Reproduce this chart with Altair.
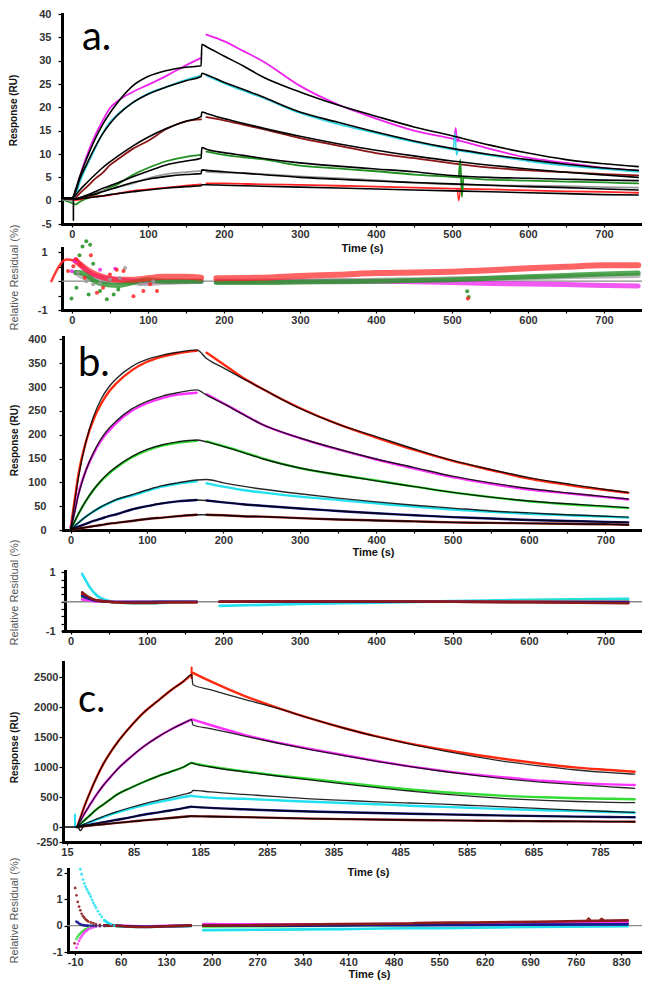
import altair as alt
import pandas as pd

FONT = "Liberation Sans"
H = 974  # plot height (page 8..982)

# ======================= Panel a (sensorgram) =======================
A_T_ASSOC = [-12, 0, 5, 10, 20, 30, 40, 50, 60, 80, 100, 125, 150, 170]
A_T_JUMP = [171]
A_T_DISS = [177, 200, 225, 250, 300, 350, 400, 450, 500, 550, 600, 650, 700, 745]

A_MAGENTA_ASSOC = [0.3, 0.2, 1.5, 4.8, 9.8, 13.8, 17.0, 19.8, 21.3, 23.3, 24.8, 26.8, 29.0, 30.6]
A_MAGENTA_DISS = [35.6, 34.2, 32.1, 30.0, 24.6, 20.6, 17.6, 15.0, 13.3, 11.1, 9.2, 8.1, 7.0, 6.4]
A_MAGENTA_FIT = [0.5, 0.5, 2.5, 5.0, 9.2, 13.0, 16.2, 18.8, 21.0, 24.6, 26.6, 27.9, 28.6, 28.9, 33.5,
                 33.0, 31.0, 28.9, 26.6, 23.3, 20.5, 18.1, 15.8, 13.9, 11.9, 10.2, 8.8, 7.9, 7.3]
A_CYAN_ASSOC = [0.2, 0.0, 1.0, 3.8, 7.6, 11.0, 14.3, 16.8, 18.5, 21.0, 22.9, 24.4, 25.9, 26.8]
A_CYAN_DISS = [26.8, 25.2, 23.6, 22.1, 18.8, 16.4, 14.5, 12.6, 11.0, 9.7, 8.5, 7.5, 6.8, 6.2]
A_CYAN_FIT = [0.5, 0.5, 2.0, 4.5, 8.0, 11.3, 14.2, 16.5, 18.3, 21.0, 22.8, 24.4, 25.7, 26.6, 27.3,
              27.0, 25.4, 23.9, 22.3, 19.0, 16.8, 14.7, 12.8, 11.2, 9.9, 8.8, 7.8, 7.0, 6.5]
A_MAROON_ASSOC = [0.3, 0.1, 0.6, 1.5, 3.0, 4.6, 5.9, 7.6, 8.8, 11.1, 12.8, 15.4, 17.0, 17.4]
A_MAROON_DISS = [17.9, 17.2, 16.3, 15.4, 13.4, 11.8, 10.2, 9.1, 8.0, 7.1, 6.5, 6.1, 5.7, 5.4]
A_MAROON_FIT = [0.5, 0.5, 1.2, 2.2, 3.9, 5.5, 7.0, 8.3, 9.5, 11.7, 13.6, 15.5, 17.0, 18.0, 19.0,
                18.7, 17.6, 16.6, 15.6, 13.8, 12.2, 10.8, 9.6, 8.5, 7.6, 6.8, 6.1, 5.5, 5.0]
A_GREEN_ASSOC = [0.2, -0.5, -0.8, -0.3, 0.5, 1.2, 2.0, 2.8, 3.5, 5.5, 7.0, 8.5, 9.4, 9.8]
A_GREEN_DISS = [10.5, 9.8, 9.3, 8.9, 7.5, 6.9, 6.3, 5.6, 5.1, 4.5, 4.3, 4.1, 3.9, 3.7]
A_GREEN_FIT = [0.5, 0.5, 0.3, 0.6, 1.2, 1.9, 2.6, 3.2, 3.8, 5.1, 6.3, 7.7, 8.5, 9.1, 11.4,
               11.0, 10.3, 9.7, 9.1, 8.1, 7.4, 6.8, 6.2, 5.4, 5.0, 4.8, 4.6, 4.4, 4.3]
A_GRAY_ASSOC = [0.3, 0.0, 0.2, 0.5, 1.0, 1.6, 2.1, 2.5, 2.9, 3.7, 4.8, 5.7, 6.1, 6.4]
A_GRAY_DISS = [6.2, 6.0, 5.9, 5.7, 5.2, 4.8, 4.4, 3.8, 3.5, 3.3, 3.2, 3.1, 2.9, 2.8]
A_GRAY_FIT = [0.5, 0.5, 0.4, 0.6, 1.0, 1.4, 1.9, 2.4, 2.9, 3.9, 4.6, 5.2, 5.6, 5.8, 6.6,
              6.5, 6.2, 5.9, 5.6, 5.0, 4.6, 4.2, 3.9, 3.6, 3.3, 3.0, 2.8, 2.5, 2.3]
A_RED_ASSOC = [0.6, 0.3, 0.1, 0.2, 0.7, 0.9, 1.0, 1.2, 1.5, 2.1, 2.4, 2.8, 3.2, 3.5]
A_RED_DISS = [3.7, 3.7, 3.6, 3.5, 3.4, 3.2, 3.0, 2.8, 2.6, 2.4, 2.2, 2.0, 1.9, 1.7]
A_RED_FIT = [0.5, 0.5, 0.3, 0.4, 0.6, 0.8, 1.0, 1.3, 1.5, 1.9, 2.3, 2.7, 3.0, 3.2, 3.4,
             3.4, 3.3, 3.2, 3.1, 2.9, 2.7, 2.5, 2.3, 2.1, 1.9, 1.7, 1.5, 1.3, 1.2]

A_SPIKE_MAG_T, A_SPIKE_MAG_V = [503, 505, 507, 509], [13.4, 15.6, 12.6, 13.3]
A_SPIKE_CYAN_T, A_SPIKE_CYAN_V = [502, 504, 506, 508], [11.2, 14.5, 9.8, 11.0]
A_SPIKE_GREEN_T, A_SPIKE_GREEN_V = [509, 511, 513, 515], [5.1, 8.8, 0.8, 5.0]
A_SPIKE_RED_T, A_SPIKE_RED_V = [507, 509, 511], [2.6, 0.0, 2.6]
A_DIP_T, A_DIP_V = [2, 2], [0.5, -4.2]

# ======================= Panel a (residuals) =======================
A_RES_T1 = [5, 10, 20, 30, 40, 60, 80, 100, 120, 150, 170]
A_RES_T2 = [190, 250, 300, 350, 400, 450, 500, 550, 600, 650, 700, 745]
A_RES_RED_LEAD_T, A_RES_RED_LEAD = [-27, -7, 5], [0.0, 0.75, 0.7]
A_RES_MAG1 = [0.75, 0.6, 0.35, 0.2, 0.12, 0.05, 0.0, -0.03, 0.0, 0.0, 0.0]
A_RES_MAG2 = [0.0, 0.0, 0.0, 0.0, 0.0, -0.02, -0.05, -0.08, -0.1, -0.12, -0.15, -0.17]
A_RES_GRAY1 = [0.3, 0.2, 0.1, 0.05, 0.0, -0.02, -0.05, -0.08, -0.05, -0.02, 0.0]
A_RES_GRAY2 = [0.0, 0.0, 0.0, 0.02, 0.03, 0.05, 0.08, 0.1, 0.12, 0.15, 0.18, 0.2]
A_RES_GREEN1 = [0.3, 0.3, 0.2, 0.0, -0.1, -0.15, -0.05, 0.05, 0.0, 0.0, 0.0]
A_RES_GREEN2 = [-0.05, -0.05, -0.03, -0.02, 0.0, 0.02, 0.05, 0.1, 0.15, 0.2, 0.25, 0.28]
A_RES_RED1 = [0.7, 0.6, 0.4, 0.25, 0.15, 0.05, 0.05, 0.1, 0.15, 0.15, 0.12]
A_RES_RED2 = [0.1, 0.12, 0.18, 0.22, 0.28, 0.3, 0.33, 0.38, 0.45, 0.5, 0.55, 0.55]
A_RES_GREEN_PT_T = [19, 14, 24, -0.5, 6, 22, 46, 37, 55, 61, 28, 10, 520, 522]
A_RES_GREEN_PT_R = [1.38, 1.2, 1.26, -0.6, -0.23, -0.46, -0.63, -0.34, -0.46, -0.29, 0.6, 0.9, -0.35, -0.55]
A_RES_RED_PT_T = [-5, 2, 11, 17, 33, 41, 50, 59, 68, 81, 94, 103, 112, 6, 25, 521]
A_RES_RED_PT_R = [0.35, 0.52, 0.57, 0.12, -0.4, -0.23, 0.23, 0.4, 0.35, -0.52, -0.34, -0.11, -0.34, 0.75, 0.9, -0.6]
A_RES_GRAY_PT_T = [8, 19, 28, 37, 50, 63, 70, 90, 107]
A_RES_GRAY_PT_R = [0.29, 0.0, -0.11, -0.06, 0.06, 0.11, 0.46, -0.11, 0.0]
A_RES_MAG_PT_T = [4, 0, 37, 57]
A_RES_MAG_PT_R = [0.69, 0.34, 0.4, 0.43]

# ======================= Panel b (sensorgram) =======================
B_T_ASSOC = [0, 5, 10, 20, 30, 40, 50, 60, 80, 100, 120, 140, 165]
B_T_DISS = [178, 200, 225, 250, 300, 350, 400, 450, 500, 550, 600, 650, 700, 730]
B_RED_ASSOC = [5, 60, 115, 185, 232, 265, 290, 308, 335, 353, 364, 371, 376]
B_RED_DISS = [372, 348, 320, 297, 256, 222, 194, 168, 145, 126, 108, 95, 84, 78]
B_RED_FIT = [0, 55, 108, 185, 238, 275, 300, 318, 343, 358, 367, 373, 378,
             360, 340, 318, 297, 255, 222, 196, 170, 146, 127, 110, 97, 85, 79]
B_MAG_ASSOC = [3, 38, 75, 125, 160, 188, 208, 225, 250, 266, 277, 284, 288]
B_MAG_DISS = [285, 266, 244, 222, 193, 169, 148, 129, 111, 97, 85, 77, 69, 64]
B_MAG_FIT = [0, 35, 72, 125, 163, 192, 213, 229, 254, 270, 281, 288, 294,
             283, 265, 243, 222, 193, 170, 149, 131, 113, 99, 87, 78, 70, 65]
B_GREEN_ASSOC = [2, 17, 33, 61, 84, 103, 118, 131, 152, 167, 177, 183, 187]
B_GREEN_DISS = [186, 176, 164, 151, 130, 116, 104, 91, 79, 69, 60, 54, 49, 46]
B_GREEN_FIT = [0, 17, 33, 61, 85, 104, 120, 133, 154, 169, 179, 185, 189,
               185, 175, 163, 150, 130, 116, 103, 91, 79, 69, 61, 55, 50, 47]
B_CYAN_ASSOC = [1, 8, 15, 28, 39, 48, 56, 63, 72, 82, 91, 97, 102]
B_CYAN_DISS = [98, 91, 84, 79, 70, 63, 56, 49, 43, 38, 34, 31, 28, 26]
B_CYAN_FIT = [0, 8, 15, 28, 39, 49, 57, 64, 74, 84, 93, 99, 105,
              106, 99, 92, 86, 76, 67, 59, 52, 46, 40, 36, 32, 29, 27]
B_NAVY_ASSOC = [1, 4, 7, 13, 19, 24, 29, 33, 43, 50, 56, 60, 63]
B_NAVY_DISS = [62, 58, 54, 51, 45, 40, 35, 31, 27, 24, 21, 19, 17, 16]
B_MAROON_ASSOC = [0, 1.5, 3, 5.5, 8, 10.5, 13, 15, 19, 23, 26, 29, 32]
B_MAROON_DISS = [32, 31, 29, 28, 25, 22, 20, 18, 16, 15, 14, 13, 12, 11]

# ======================= Panel b (residuals) =======================
B_RES_T1 = [15, 20, 25, 30, 35, 40, 50, 60, 80, 100, 130, 165]
B_RES_T2 = [195, 300, 400, 500, 600, 730]
B_RES_CYAN1 = [0.95, 0.72, 0.5, 0.33, 0.2, 0.12, 0.03, -0.02, -0.05, -0.05, -0.03, -0.02]
B_RES_CYAN2 = [-0.14, -0.08, -0.03, 0.02, 0.07, 0.1]
B_RES_GREEN1 = [0.15, 0.12, 0.08, 0.05, 0.03, 0.02, 0.0, -0.01, -0.01, 0.0, 0.0, 0.0]
B_RES_GREEN2 = [0.0, 0.0, 0.0, 0.0, 0.02, 0.02]
B_RES_MAG1 = [0.08, 0.06, 0.04, 0.02, 0.01, 0.0, 0.0, 0.0, 0.0, 0.0, 0.0, 0.0]
B_RES_MAG2 = [0.0, 0.0, 0.01, 0.0, 0.0, 0.0]
B_RES_RED1 = [0.25, 0.18, 0.12, 0.08, 0.05, 0.03, 0.0, -0.02, -0.03, -0.03, -0.02, -0.02]
B_RES_RED2 = [0.0, 0.01, 0.01, 0.0, -0.01, -0.03]
B_RES_NAVY1 = [0.2, 0.14, 0.09, 0.05, 0.03, 0.02, 0.0, -0.01, -0.01, -0.01, 0.0, 0.0]
B_RES_NAVY2 = [0.0, 0.0, 0.0, 0.0, -0.01, -0.02]
B_RES_MAROON1 = [0.32, 0.22, 0.14, 0.08, 0.04, 0.02, 0.0, -0.02, -0.04, -0.04, -0.02, -0.02]
B_RES_MAROON2 = [0.0, 0.01, 0.01, 0.0, -0.02, -0.05]

# ======================= Panel c (sensorgram) =======================
C_T_ASSOC = [0, 5, 10, 20, 30, 40, 50, 60, 80, 100, 120, 140, 160, 172]
C_T_DISS = [174, 200, 250, 300, 350, 400, 450, 500, 550, 600, 650, 700, 750, 800, 837]
C_RED_ASSOC = [0, 150, 310, 590, 840, 1060, 1240, 1400, 1670, 1905, 2090, 2270, 2430, 2540]
C_RED_DISS = [2570, 2430, 2190, 1990, 1810, 1650, 1510, 1390, 1290, 1200, 1120, 1050, 990, 950, 920]
C_RED_FIT_DISS = [2370, 2290, 2130, 1980, 1810, 1650, 1505, 1380, 1270, 1170, 1080, 1010, 950, 905, 880]
C_MAG_ASSOC = [0, 100, 200, 380, 550, 700, 830, 955, 1160, 1340, 1490, 1620, 1730, 1790]
C_MAG_DISS = [1790, 1700, 1540, 1410, 1300, 1200, 1100, 1010, 935, 870, 820, 770, 735, 710, 700]
C_MAG_FIT_DISS = [1700, 1640, 1520, 1400, 1290, 1190, 1095, 1005, 925, 855, 795, 745, 705, 670, 645]
C_GREEN_ASSOC = [0, 50, 100, 200, 300, 380, 460, 540, 650, 750, 840, 920, 1000, 1070]
C_GREEN_DISS = [1065, 1010, 930, 860, 800, 740, 680, 625, 580, 545, 515, 495, 480, 470, 462]
C_GREEN_FIT_DISS = [1060, 1000, 920, 850, 785, 720, 655, 600, 548, 505, 470, 445, 425, 412, 405]
C_CYAN_ASSOC = [0, 20, 40, 80, 125, 165, 205, 240, 305, 360, 410, 455, 500, 520]
C_CYAN_DISS = [515, 490, 470, 445, 420, 400, 380, 355, 335, 315, 295, 280, 265, 250, 238]
C_CYAN_FIT_ASSOC = [0, 22, 45, 90, 135, 178, 220, 258, 325, 385, 440, 490, 545, 580]
C_CYAN_FIT_DISS = [610, 585, 545, 505, 470, 445, 420, 400, 380, 355, 330, 305, 280, 258, 245]
C_NAVY_ASSOC = [0, 10, 20, 40, 60, 80, 100, 120, 160, 205, 240, 275, 315, 340]
C_NAVY_DISS = [335, 318, 295, 275, 258, 245, 233, 222, 210, 200, 190, 181, 173, 166, 162]
C_MAROON_ASSOC = [0, 6, 12, 24, 35, 46, 57, 68, 89, 110, 130, 150, 170, 182]
C_MAROON_DISS = [180, 175, 165, 152, 140, 132, 124, 117, 111, 105, 100, 96, 93, 90, 88]
C_BASE_T, C_BASE_V = [-21, 0], [0, 0]
C_SPIKE_CYAN_T, C_SPIKE_CYAN_V = [-3, -3], [0, 210]
C_SPIKE_RED_T, C_SPIKE_RED_V = [172, 172], [2480, 2660]
C_DIP_T, C_DIP_V = [2, 5, 9], [0, -60, 0]

# ======================= Panel c (residuals) =======================
CR_EARLY_T = [-8, -6, -4, -2, 0, 2, 4, 6, 8, 10, 14, 18, 22, 28, 35]
CR_MAROON_EARLY = [1.15, 0.9, 0.72, 0.58, 0.45, 0.36, 0.3, 0.24, 0.2, 0.16, 0.12, 0.09, 0.06, 0.03, 0.01]
CR_MAG_EARLY = [-0.84, -0.7, -0.58, -0.48, -0.4, -0.33, -0.27, -0.22, -0.18, -0.14, -0.1, -0.06, -0.04, -0.02, -0.01]
CR_GREEN_EARLY = [-0.5, -0.42, -0.35, -0.3, -0.25, -0.21, -0.17, -0.14, -0.12, -0.1, -0.07, -0.05, -0.04, -0.02, -0.01]
CR_NAVY_EARLY = [0.15, 0.12, 0.08, 0.05, 0.03, 0.02, 0.01, 0.0, 0.0, 0.0, 0.0, 0.0, 0.0, 0.0, 0.0]
CR_CYAN_EARLY_T = [-2, 0, 2, 4, 6, 8, 10, 12, 14, 16, 18, 20, 22, 25, 28, 31, 35, 40, 45, 50]
CR_CYAN_EARLY = [2.14, 1.95, 1.75, 1.6, 1.48, 1.38, 1.28, 1.2, 1.1, 0.98, 0.87, 0.77, 0.68, 0.55, 0.43, 0.33, 0.2, 0.1, 0.05, 0.0]
CR_EXTRA_T, CR_EXTRA_R = [-10, -11], [1.43, -0.67]
CR_T1 = [35, 50, 70, 100, 130, 168]
CR_T2 = [187, 300, 400, 505, 515, 600, 700, 840]
CR_CYAN1 = [0.2, 0.0, -0.04, -0.05, -0.03, -0.02]
CR_CYAN2 = [-0.17, -0.15, -0.13, -0.1, -0.1, -0.08, -0.05, -0.02]
CR_GREEN1 = [-0.01, 0.0, -0.02, -0.04, -0.02, 0.0]
CR_GREEN2 = [-0.03, -0.02, 0.0, 0.03, 0.03, 0.05, 0.07, 0.1]
CR_MAG1 = [0.0, 0.0, -0.01, -0.02, -0.01, 0.0]
CR_MAG2 = [0.06, 0.05, 0.05, 0.06, 0.06, 0.08, 0.1, 0.14]
CR_NAVY1 = [0.0, 0.0, -0.02, -0.04, -0.02, 0.0]
CR_NAVY2 = [0.0, 0.0, 0.01, 0.02, 0.02, 0.03, 0.04, 0.05]
CR_MAROON1 = [0.01, 0.0, -0.03, -0.05, -0.02, 0.0]
CR_MAROON2 = [0.0, 0.03, 0.06, 0.08, 0.1, 0.12, 0.15, 0.2]
CR_SPIKE1_T, CR_SPIKE1_R = [777, 780, 783], [0.18, 0.28, 0.18]
CR_SPIKE2_T, CR_SPIKE2_R = [797, 800, 803], [0.19, 0.27, 0.19]

# zero lines and panel letters
A_ZERO_T, B_ZERO_T, C_ZERO_T = [-13, 750], [-10, 748], [-21, 862]
ZERO_V = [0, 0]
LETTERS = ["a.", "b.", "c."]
LETTER_T = [13.3, 9.6, 1.5]
LETTER_V = [32.3, 323, 1917]

# axis tick values
AB_X_TICKS = [0, 50, 100, 150, 200, 250, 300, 350, 400, 450, 500, 550, 600, 650, 700]
C_X_TICKS = [-15, 35, 85, 135, 185, 235, 285, 335, 385, 435, 485, 535, 585, 635, 685, 735, 785, 835]
CR_X_TICKS = [-10, 60, 130, 200, 270, 340, 410, 480, 550, 620, 690, 760, 830]
A_Y_TICKS = [-5, 0, 5, 10, 15, 20, 25, 30, 35, 40]
AR_Y_TICKS = [-1, -0.5, 0, 0.5, 1]
B_Y_TICKS = [0, 50, 100, 150, 200, 250, 300, 350, 400]
BR_Y_TICKS = [-1, -0.75, -0.5, -0.25, 0, 0.25, 0.5, 0.75, 1]
C_Y_TICKS = [-250, 0, 500, 1000, 1500, 2000, 2500]
CR_Y_TICKS = [-1, 0, 1, 2]

# colours
A_COL = {"mag": "#ee22ee", "cyan": "#33d6e6", "maroon": "#8b1515", "green": "#1f8f1f",
         "gray": "#9a9a9a", "red": "#ff2222"}
B_COL = {"red": "#ff2a10", "mag": "#ff33ff", "green": "#33dd33", "cyan": "#22e0ee",
         "navy": "#1a1a8c", "maroon": "#8b1a1a"}
ZERO_COL = "#8a8a8a"


def add(rows, key, ts, vs, color, w, op=1.0):
    for t, v in zip(ts, vs):
        rows.append({"t": t, "v": v, "key": key, "color": color, "w": w, "op": op})


def addpts(rows, ts, vs, color):
    for t, v in zip(ts, vs):
        rows.append({"t": t, "v": v, "color": color})


def sc(domain, rng):
    return alt.Scale(domain=domain, range=rng, nice=False, zero=False)


def xaxis(values, expr, offset, title="", tx=0, ty=0):
    kw = dict(orient="bottom", offset=offset, values=values, labelExpr=expr, grid=False,
              domainColor="#000", domainWidth=3, domainCap="square", tickColor="#000",
              tickWidth=1.2, tickSize=3, labelFont=FONT, labelFontSize=11, labelFontWeight="bold",
              labelColor="#333", labelPadding=1, labelOverlap=False, labelFlush=False)
    if title:
        kw.update(title=title, titleX=tx, titleY=ty, titleFont=FONT, titleFontSize=11,
                  titleFontWeight="bold", titleColor="#111", titleAngle=0, titleAlign="center",
                  titleBaseline="middle")
    else:
        kw.update(title="")
    return alt.Axis(**kw)


def yaxis(values, expr, offset, pad, title, tx, ty, bold=True):
    return alt.Axis(orient="left", offset=offset, values=values, labelExpr=expr, grid=False,
                    domainColor="#000", domainWidth=3, domainCap="square", tickColor="#000",
                    tickWidth=1.2, tickSize=4, labelFont=FONT, labelFontSize=11,
                    labelFontWeight="bold", labelColor="#333", labelPadding=pad,
                    labelOverlap=False, labelFlush=False, title=title, titleX=tx, titleY=ty,
                    titleFont=FONT, titleFontSize=10 if bold else 11,
                    titleFontWeight="bold" if bold else "normal",
                    titleColor="#111" if bold else "#555", titleAngle=270, titleAlign="center",
                    titleBaseline="middle")


def lines(rows, sx, sy, ax, ay):
    return alt.Chart(pd.DataFrame(rows)).mark_line(
        interpolate="monotone", strokeCap="round", strokeJoin="round"
    ).encode(
        x=alt.X("t:Q", scale=sx, axis=ax),
        y=alt.Y("v:Q", scale=sy, axis=ay),
        detail="key:N",
        color=alt.Color("color:N", scale=None),
        size=alt.Size("w:Q", scale=None),
        opacity=alt.Opacity("op:Q", scale=None),
    )


def points(rows, sx, sy, ax, ay, size):
    return alt.Chart(pd.DataFrame(rows)).mark_circle(size=size, opacity=0.85).encode(
        x=alt.X("t:Q", scale=sx, axis=ax),
        y=alt.Y("v:Q", scale=sy, axis=ay),
        color=alt.Color("color:N", scale=None),
    )


def letter(i, sx, sy, ax, ay, fs):
    df = pd.DataFrame({"t": [LETTER_T[i]], "v": [LETTER_V[i]], "label": [LETTERS[i]]})
    return alt.Chart(df).mark_text(font="Lato", fontSize=fs, align="left",
                                   baseline="alphabetic", color="#000").encode(
        x=alt.X("t:Q", scale=sx, axis=ax),
        y=alt.Y("v:Q", scale=sy, axis=ay),
        text="label:N",
    )


# ---------------- scales ----------------
SX_A = sc([-13, 750], [54, 634])
SY_A = sc([-5, 40], [216, 6])
SY_AR = sc([-1, 1.15], [302, 240])
SX_B = sc([-10, 748], [55, 634])
SY_B = sc([0, 405], [522, 329])
SY_BR = sc([-1, 1.05], [623, 563])
SX_C = sc([-21, 848], [55, 634])
SY_C = sc([-250, 2750], [834, 654])
SX_CR = sc([-21, 862], [60, 634])
SY_CR = sc([-1, 2.15], [944, 861])

EXPR_100 = "datum.value % 100 == 0 ? '' + datum.value : ''"
EXPR_ALL = "'' + datum.value"
EXPR_PM1 = "abs(datum.value) == 1 ? '' + datum.value : ''"
EXPR_C = "(datum.value + 15) % 100 == 0 ? (datum.value == -15 ? '15' : '' + datum.value) : ''"

# ---------------- panel a ----------------
a_data, a_fit = [], []
for name, asc, dis in [("mag", A_MAGENTA_ASSOC, A_MAGENTA_DISS), ("cyan", A_CYAN_ASSOC, A_CYAN_DISS),
                       ("maroon", A_MAROON_ASSOC, A_MAROON_DISS), ("green", A_GREEN_ASSOC, A_GREEN_DISS),
                       ("gray", A_GRAY_ASSOC, A_GRAY_DISS), ("red", A_RED_ASSOC, A_RED_DISS)]:
    add(a_data, name + "_as", A_T_ASSOC, asc, A_COL[name], 1.8)
    add(a_data, name + "_di", A_T_DISS, dis, A_COL[name], 1.8)
add(a_data, "sp_mag", A_SPIKE_MAG_T, A_SPIKE_MAG_V, A_COL["mag"], 1.5)
add(a_data, "sp_cyan", A_SPIKE_CYAN_T, A_SPIKE_CYAN_V, A_COL["cyan"], 1.5)
add(a_data, "sp_green", A_SPIKE_GREEN_T, A_SPIKE_GREEN_V, A_COL["green"], 1.8)
add(a_data, "sp_red", A_SPIKE_RED_T, A_SPIKE_RED_V, A_COL["red"], 1.5)
for name, fit in [("mag", A_MAGENTA_FIT), ("cyan", A_CYAN_FIT), ("maroon", A_MAROON_FIT),
                  ("green", A_GREEN_FIT), ("gray", A_GRAY_FIT), ("red", A_RED_FIT)]:
    add(a_fit, "fit_" + name, A_T_ASSOC + A_T_JUMP + A_T_DISS, fit, "#000", 1.6)
add(a_fit, "fit_dip", A_DIP_T, A_DIP_V, "#000", 1.6)

AX_A = xaxis(AB_X_TICKS, EXPR_100, 216 - H, "Time (s)", 354, 24)
AY_A = yaxis(A_Y_TICKS, EXPR_ALL, -54, 7, "Response (RU)", -49, 102)
panel_a = alt.layer(
    lines(a_data, SX_A, SY_A, AX_A, AY_A),
    lines(a_fit, SX_A, SY_A, AX_A, AY_A),
    letter(0, SX_A, SY_A, AX_A, AY_A, 40),
)

# ---------------- panel a residuals ----------------
ar_lines, ar_pts = [], []
add(ar_lines, "zero", A_ZERO_T, ZERO_V, ZERO_COL, 1.3)
add(ar_lines, "m1", A_RES_T1, A_RES_MAG1, A_COL["mag"], 5, 0.75)
add(ar_lines, "m2", A_RES_T2, A_RES_MAG2, A_COL["mag"], 5, 0.75)
add(ar_lines, "g1", A_RES_T1, A_RES_GRAY1, A_COL["gray"], 5, 0.7)
add(ar_lines, "g2", A_RES_T2, A_RES_GRAY2, A_COL["gray"], 5, 0.7)
add(ar_lines, "n1", A_RES_T1, A_RES_GREEN1, A_COL["green"], 5, 0.75)
add(ar_lines, "n2", A_RES_T2, A_RES_GREEN2, A_COL["green"], 5, 0.75)
add(ar_lines, "r0", A_RES_RED_LEAD_T, A_RES_RED_LEAD, A_COL["red"], 2.5, 0.9)
add(ar_lines, "r1", A_RES_T1, A_RES_RED1, A_COL["red"], 6, 0.7)
add(ar_lines, "r2", A_RES_T2, A_RES_RED2, A_COL["red"], 6, 0.7)
addpts(ar_pts, A_RES_GRAY_PT_T, A_RES_GRAY_PT_R, A_COL["gray"])
addpts(ar_pts, A_RES_MAG_PT_T, A_RES_MAG_PT_R, A_COL["mag"])
addpts(ar_pts, A_RES_GREEN_PT_T, A_RES_GREEN_PT_R, A_COL["green"])
addpts(ar_pts, A_RES_RED_PT_T, A_RES_RED_PT_R, A_COL["red"])

AX_AR = xaxis(AB_X_TICKS, EXPR_100, 302 - H)
AY_AR = yaxis(AR_Y_TICKS, EXPR_PM1, -54, 11, "Relative Residual (%)", -48, 269, bold=False)
panel_ar = alt.layer(
    lines(ar_lines, SX_A, SY_AR, AX_AR, AY_AR),
    points(ar_pts, SX_A, SY_AR, AX_AR, AY_AR, 16),
)

# ---------------- panel b ----------------
b_data, b_fit = [], []
for name, asc, dis, fit in [("red", B_RED_ASSOC, B_RED_DISS, B_RED_FIT),
                            ("mag", B_MAG_ASSOC, B_MAG_DISS, B_MAG_FIT),
                            ("green", B_GREEN_ASSOC, B_GREEN_DISS, B_GREEN_FIT),
                            ("cyan", B_CYAN_ASSOC, B_CYAN_DISS, B_CYAN_FIT),
                            ("navy", B_NAVY_ASSOC, B_NAVY_DISS, B_NAVY_ASSOC + B_NAVY_DISS),
                            ("maroon", B_MAROON_ASSOC, B_MAROON_DISS, B_MAROON_ASSOC + B_MAROON_DISS)]:
    add(b_data, name + "_as", B_T_ASSOC, asc, B_COL[name], 2.4)
    add(b_data, name + "_di", B_T_DISS, dis, B_COL[name], 2.4)
    add(b_fit, "fit_" + name, B_T_ASSOC + B_T_DISS, fit, "#000", 1.4, 0.85)

AX_B = xaxis(AB_X_TICKS, EXPR_100, 522 - H, "Time (s)", 365, 22)
AY_B = yaxis(B_Y_TICKS, EXPR_ALL, -55, 13, "Response (RU)", -49, 432)
panel_b = alt.layer(
    lines(b_data, SX_B, SY_B, AX_B, AY_B),
    lines(b_fit, SX_B, SY_B, AX_B, AY_B),
    letter(1, SX_B, SY_B, AX_B, AY_B, 40),
)

# ---------------- panel b residuals ----------------
br_lines = []
add(br_lines, "zero", B_ZERO_T, ZERO_V, ZERO_COL, 1.3)
for name, s1, s2 in [("cyan", B_RES_CYAN1, B_RES_CYAN2), ("green", B_RES_GREEN1, B_RES_GREEN2),
                     ("mag", B_RES_MAG1, B_RES_MAG2), ("red", B_RES_RED1, B_RES_RED2),
                     ("navy", B_RES_NAVY1, B_RES_NAVY2), ("maroon", B_RES_MAROON1, B_RES_MAROON2)]:
    add(br_lines, name + "1", B_RES_T1, s1, B_COL[name], 2.6)
    add(br_lines, name + "2", B_RES_T2, s2, B_COL[name], 2.6)

AX_BR = xaxis(AB_X_TICKS, EXPR_100, 623 - H)
AY_BR = yaxis(BR_Y_TICKS, EXPR_PM1, -57, 6, "Relative Residual (%)", -51, 584, bold=False)
panel_br = alt.layer(lines(br_lines, SX_B, SY_BR, AX_BR, AY_BR))

# ---------------- panel c ----------------
c_data, c_fit = [], []
add(c_fit, "base", C_BASE_T, C_BASE_V, "#000", 1.5)
for name, asc, dis, fas, fdi in [
        ("red", C_RED_ASSOC, C_RED_DISS, C_RED_ASSOC, C_RED_FIT_DISS),
        ("mag", C_MAG_ASSOC, C_MAG_DISS, C_MAG_ASSOC, C_MAG_FIT_DISS),
        ("green", C_GREEN_ASSOC, C_GREEN_DISS, C_GREEN_ASSOC, C_GREEN_FIT_DISS),
        ("cyan", C_CYAN_ASSOC, C_CYAN_DISS, C_CYAN_FIT_ASSOC, C_CYAN_FIT_DISS),
        ("navy", C_NAVY_ASSOC, C_NAVY_DISS, C_NAVY_ASSOC, C_NAVY_DISS),
        ("maroon", C_MAROON_ASSOC, C_MAROON_DISS, C_MAROON_ASSOC, C_MAROON_DISS)]:
    add(c_data, name + "_as", C_T_ASSOC, asc, B_COL[name], 2.4)
    add(c_data, name + "_di", C_T_DISS, dis, B_COL[name], 2.4)
    add(c_fit, "fit_" + name, C_T_ASSOC + C_T_DISS, fas + fdi, "#000", 1.3, 0.85)
add(c_data, "sp_cyan", C_SPIKE_CYAN_T, C_SPIKE_CYAN_V, B_COL["cyan"], 2)
add(c_data, "sp_red", C_SPIKE_RED_T, C_SPIKE_RED_V, B_COL["red"], 2)
add(c_fit, "dip", C_DIP_T, C_DIP_V, "#000", 1.3)

AX_C = xaxis(C_X_TICKS, EXPR_C, 834 - H, "Time (s)", 360, 30)
AY_C = yaxis(C_Y_TICKS, EXPR_ALL, -55, 1, "Response (RU)", -49, 739)
panel_c = alt.layer(
    lines(c_data, SX_C, SY_C, AX_C, AY_C),
    lines(c_fit, SX_C, SY_C, AX_C, AY_C),
    letter(2, SX_C, SY_C, AX_C, AY_C, 38),
)

# ---------------- panel c residuals ----------------
cr_lines, cr_pts = [], []
add(cr_lines, "zero", C_ZERO_T, ZERO_V, ZERO_COL, 1.3)
for name, s1, s2 in [("cyan", CR_CYAN1, CR_CYAN2), ("green", CR_GREEN1, CR_GREEN2),
                     ("mag", CR_MAG1, CR_MAG2), ("navy", CR_NAVY1, CR_NAVY2),
                     ("maroon", CR_MAROON1, CR_MAROON2)]:
    add(cr_lines, name + "1", CR_T1, s1, B_COL[name], 2.6)
    add(cr_lines, name + "2", CR_T2, s2, B_COL[name], 2.6)
add(cr_lines, "sp1", CR_SPIKE1_T, CR_SPIKE1_R, B_COL["maroon"], 2)
add(cr_lines, "sp2", CR_SPIKE2_T, CR_SPIKE2_R, B_COL["maroon"], 2)
addpts(cr_pts, CR_CYAN_EARLY_T, CR_CYAN_EARLY, B_COL["cyan"])
addpts(cr_pts, CR_EARLY_T, CR_GREEN_EARLY, B_COL["green"])
addpts(cr_pts, CR_EARLY_T, CR_MAG_EARLY, B_COL["mag"])
addpts(cr_pts, CR_EARLY_T, CR_NAVY_EARLY, B_COL["navy"])
addpts(cr_pts, CR_EARLY_T, CR_MAROON_EARLY, B_COL["maroon"])
addpts(cr_pts, CR_EXTRA_T, CR_EXTRA_R, B_COL["maroon"])

AX_CR = xaxis(CR_X_TICKS, EXPR_ALL, 944 - H, "Time (s)", 361, 22)
AY_CR = yaxis(CR_Y_TICKS, EXPR_ALL, -60, 2, "Relative Residual (%)", -54, 902, bold=False)
panel_cr = alt.layer(
    lines(cr_lines, SX_CR, SY_CR, AX_CR, AY_CR),
    points(cr_pts, SX_CR, SY_CR, AX_CR, AY_CR, 8),
)

chart = alt.layer(
    panel_a, panel_ar, panel_b, panel_br, panel_c, panel_cr
).resolve_scale(
    x="independent", y="independent"
).properties(
    width=634, height=H, padding=0,
    autosize=alt.AutoSizeParams(type="none"),
).configure_view(stroke=None)

chart.save("out.html", embed_options={"renderer": "svg", "actions": False})
